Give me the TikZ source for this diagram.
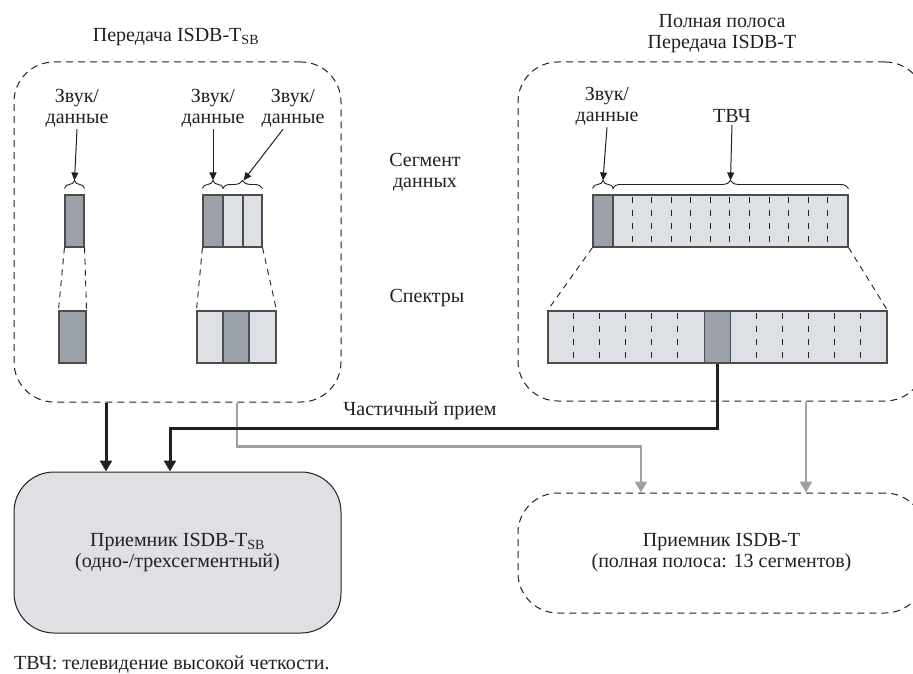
\documentclass[tikz,border=0pt]{standalone}
\usepackage{fontspec}
\setmainfont{Liberation Serif}
\usepackage{tikz}
\usetikzlibrary{arrows.meta,decorations.pathreplacing,calc,positioning}
\usepackage{xcolor}
\newcommand{\segh}{52pt}
\newcommand{\mysize}{\fontsize{20}{21}\selectfont}
\definecolor{inkcol}{RGB}{35,31,32}
\definecolor{darkseg}{RGB}{155,161,168}
\definecolor{lightseg}{RGB}{221,224,229}
\definecolor{rxfill}{RGB}{222,224,228}
\definecolor{linegray}{RGB}{160,160,160}
\tikzset{
    txtsty/.style={font=\mysize, text=inkcol, align=center, inner sep=2pt},
    grpsty/.style={draw=inkcol, dash pattern=on 7pt off 5pt, rounded corners=40pt, line width=1pt, rectangle, inner sep=0pt},
    rxsty/.style={draw=inkcol, fill=rxfill, rounded corners=40pt, line width=1pt, rectangle, inner sep=0pt, font=\mysize, text=inkcol, align=center},
    dsegsty/.style={draw=inkcol!80, fill=darkseg, line width=1.1pt, rectangle, minimum height=\segh, inner sep=0pt},
    lsegsty/.style={draw=inkcol!80, fill=lightseg, line width=1.1pt, rectangle, minimum height=\segh, inner sep=0pt},
    divsty/.style={draw=inkcol, line width=1pt, dash pattern=on 6pt off 7pt, dash phase=10pt},
    zoomsty/.style={draw=inkcol, line width=0.9pt, dash pattern=on 6pt off 5pt},
    brcsty/.style={draw=inkcol, line width=0.9pt, decorate, decoration={brace, raise=6pt, amplitude=8pt}},
    ptrsty/.style={draw=inkcol, line width=1pt, -{Triangle[length=8pt,width=7pt]}},
    blksty/.style={draw=inkcol, line width=3pt, -{Triangle[length=11pt,width=12pt]}},
    grysty/.style={draw=linegray, line width=2.6pt, -{Triangle[length=11pt,width=12pt]}},
}

\begin{document}
\begin{tikzpicture}[x=1pt,y=-1pt]
\useasboundingbox (0,0) rectangle (913,674);

\node[grpsty, minimum width=327pt, minimum height=340pt] (txa) at (177.5,232) {};
\node[grpsty, minimum width=407pt, minimum height=339pt] (txb) at (721.5,231.5) {};
\node[txtsty] (ttla) at (176,37) {Передача ISDB-T\textsubscript{SB}};
\node[txtsty] (ttlb) at (722,34) {Полная полоса\\Передача ISDB-T};
\node[txtsty] (lbsg) at (425,172) {Сегмент\\данных};
\node[txtsty] (lbsp) at (427,298) {Спектры};

\node[dsegsty, minimum width=19pt] (ua) at (74.5,221) {};
\node[dsegsty, minimum width=27pt] (sa) at (72.5,337) {};
\node[dsegsty, minimum width=20pt] (ub1) at (213,221) {};
\node[lsegsty, minimum width=20pt] (ub2) at (233,221) {};
\node[lsegsty, minimum width=19pt] (ub3) at (252.5,221) {};
\node[lsegsty, minimum width=26pt] (sb1) at (210,337) {};
\node[dsegsty, minimum width=26pt] (sb2) at (236,337) {};
\node[lsegsty, minimum width=27pt] (sb3) at (262.5,337) {};
\node[dsegsty, minimum width=20pt] (ucd) at (603,221) {};
\node[lsegsty, minimum width=235pt] (ucl) at (730.5,221) {};
\node[lsegsty, minimum width=339pt] (sc) at (717.5,337) {};
\node[dsegsty, minimum width=26.1pt] (scd) at (717.5,337) {};
\foreach \k in {1,...,11}
  \draw[divsty] ([xshift=\k*19.58pt]ucl.north west) -- ([xshift=\k*19.58pt]ucl.south west);
\foreach \k in {1,2,3,4,5,8,9,10,11,12}
  \draw[divsty] ([xshift=\k*26.08pt]sc.north west) -- ([xshift=\k*26.08pt]sc.south west);

\draw[zoomsty] (ua.south west) -- (sa.north west);
\draw[zoomsty] (ua.south east) -- (sa.north east);
\draw[zoomsty] (ub1.south west) -- (sb1.north west);
\draw[zoomsty] (ub3.south east) -- (sb3.north east);
\draw[zoomsty] (ucd.south west) -- (sc.north west);
\draw[zoomsty] (ucl.south east) -- (sc.north east);

\draw[brcsty] (ua.north west) -- (ua.north east);
\draw[brcsty] (ub1.north west) -- (ub1.north east);
\draw[brcsty] (ub2.north west) -- (ub3.north east);
\draw[brcsty] (ucd.north west) -- (ucd.north east);
\draw[brcsty] (ucl.north west) -- (ucl.north east);

\node[txtsty] (lba) at (77,108) {Звук/\\данные};
\node[txtsty] (lbb) at (213,108) {Звук/\\данные};
\node[txtsty] (lbc) at (293,108) {Звук/\\данные};
\node[txtsty] (lbd) at (607,106) {Звук/\\данные};
\node[txtsty] (lbe) at (732,116) {ТВЧ};
\draw[ptrsty] (lba.south) -- ([yshift=14pt]ua.north);
\draw[ptrsty] (lbb.south) -- ([yshift=14pt]ub1.north);
\draw[ptrsty] ([xshift=-10pt]lbc.south) -- ([yshift=14pt]ub2.north east);
\draw[ptrsty] (lbd.south) -- ([yshift=14pt]ucd.north);
\draw[ptrsty] (lbe.south) -- ([yshift=14pt]ucl.north);

\node[rxsty, minimum width=327pt, minimum height=161pt] (rxa) at (177.5,552.5) {Приемник ISDB-T\textsubscript{SB}\\(одно-/трехсегментный)};
\node[grpsty, font=\mysize, text=inkcol, align=center, minimum width=407pt, minimum height=120pt] (rxb) at (721.5,553) {Приемник ISDB-T\\(полная полоса: 13 сегментов)};

\draw[grysty] ([xshift=59.5pt]txa.south) -- ++(0,44) -| ([xshift=-80.5pt]rxb.north);
\draw[grysty] ([xshift=84.5pt]txb.south) -- ([xshift=84.5pt]rxb.north);
\draw[blksty] ([xshift=-71.5pt]txa.south) -- ([xshift=-71.5pt]rxa.north);
\draw[blksty] (scd.south) -- ++(0,65) -| ([xshift=-7.5pt]rxa.north);
\node[txtsty] (lbpr) at (420,411) {Частичный прием};

\node[txtsty, anchor=west] (ftn) at (12,665) {ТВЧ: телевидение высокой четкости.};
\end{tikzpicture}
\end{document}
